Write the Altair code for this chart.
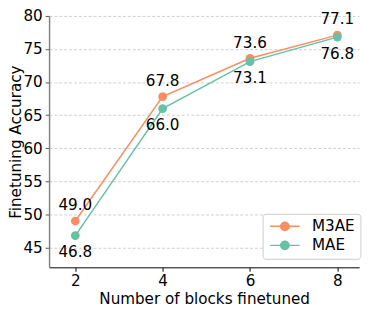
import altair as alt
import pandas as pd

# ---- data ----
blocks = [2, 4, 6, 8]
m3ae_acc = [49.0, 67.8, 73.6, 77.1]
mae_acc = [46.8, 66.0, 73.1, 76.8]
series = ["M3AE", "MAE"]
series_colors = ["#fc8d62", "#66c2a5"]
x_ticks = [2, 4, 6, 8]
y_ticks = [45, 50, 55, 60, 65, 70, 75, 80]

df = pd.DataFrame({
    "blocks": blocks + blocks,
    "acc": m3ae_acc + mae_acc,
    "model": [series[0]] * len(blocks) + [series[1]] * len(blocks),
})

FONT = "DejaVu Sans"
FS = 15.5

# legend symbol: short line with a circle (unit = sqrt(size)/2 px)
legend_path = ("M-1,-0.15 L5,-0.15 L5,0.15 L-1,0.15 Z "
               "M3,0 A1,1 0 1,1 1,0 A1,1 0 1,1 3,0 Z")

legend = alt.Legend(
    title=None, orient="none", legendX=218.3, legendY=202.3,
    symbolType=legend_path, symbolSize=100, symbolStrokeWidth=0,
    symbolOpacity=1,
    labelFont=FONT, labelFontSize=FS, labelColor="black", labelOffset=30,
    padding=5, rowPadding=2.5,
    strokeColor="#cccccc", fillColor="white", cornerRadius=3,
)

x = alt.X(
    "blocks:Q",
    scale=alt.Scale(domain=[1.4, 8.5], nice=False, zero=False),
    axis=alt.Axis(
        values=x_ticks, format="d", title="Number of blocks finetuned",
        grid=False, domainColor="black", domainWidth=1,
        tickColor="black", tickSize=4, tickWidth=1,
        labelPadding=3, titlePadding=2,
    ),
)
y = alt.Y(
    "acc:Q",
    scale=alt.Scale(domain=[42, 80], nice=False, zero=False),
    axis=alt.Axis(
        values=y_ticks, title="Finetuning Accuracy",
        grid=True, gridColor="#c4c4c4", gridDash=[3, 2], gridWidth=0.8,
        domainColor="#808080", domainWidth=1.5,
        tickColor="#555555", tickSize=4, tickWidth=1,
        labelPadding=3, titleX=-34, titleBaseline="middle", titleAngle=270,
    ),
)
color = alt.Color("model:N", scale=alt.Scale(domain=series, range=series_colors),
                  legend=legend)

base = alt.Chart(df)

lines = base.mark_line(strokeWidth=1.5).encode(x=x, y=y, color=color)
points = base.mark_point(filled=True, size=80, opacity=1).encode(x=x, y=y, color=color)

labels_top = base.transform_filter(alt.datum.model == series[0]).mark_text(
    dy=-11, baseline="alphabetic", align="center", font=FONT, fontSize=FS, color="black"
).encode(x=x, y=y, text=alt.Text("acc:Q", format=".1f"))

labels_bot = base.transform_filter(alt.datum.model == series[1]).mark_text(
    dy=22, baseline="alphabetic", align="center", font=FONT, fontSize=FS, color="black"
).encode(x=x, y=y, text=alt.Text("acc:Q", format=".1f"))

chart = alt.layer(lines, points, labels_top, labels_bot).properties(
    width=317, height=257,
    autosize=alt.AutoSizeParams(type="none"),
    padding={"left": 42, "top": 4.7, "right": 7, "bottom": 45},
).configure_view(stroke=None).configure_axis(
    labelFont=FONT, labelFontSize=FS, labelColor="black",
    titleFont=FONT, titleFontSize=FS, titleColor="black", titleFontWeight="normal",
)

chart.save("out.html", embed_options={"renderer": "svg", "actions": False})
